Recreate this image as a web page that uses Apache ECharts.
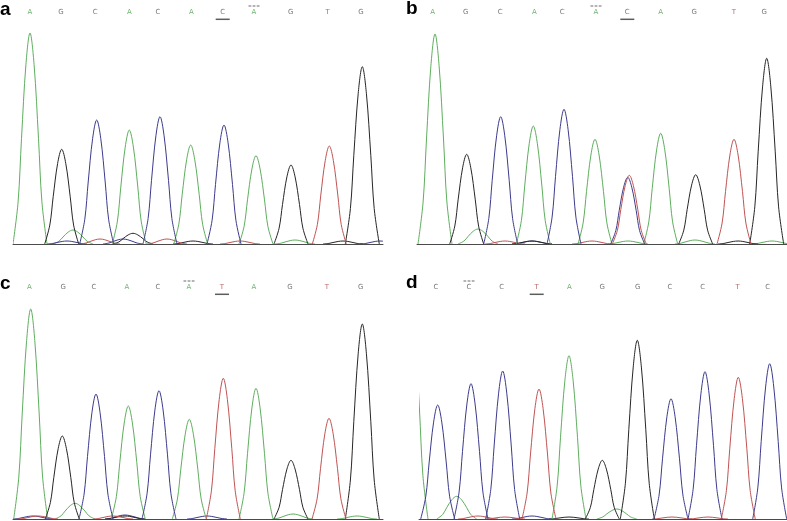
<!DOCTYPE html>
<html>
<head>
<meta charset="utf-8">
<script src="https://cdn.jsdelivr.net/npm/echarts@6.0.0/dist/echarts.min.js"></script>
<style>
html, body { margin: 0; padding: 0; background: #fff; }
#main { width: 787px; height: 521px; }
</style>
</head>
<body>
<div id="main"></div>
<script>
// base calls printed above each trace (x in scan units of its panel)
var basesA = ['A','G','C','A','C','A','C','A','G','T','G'];
var basePosA = [17, 48, 82.3, 116.3, 145, 178.3, 209.7, 241, 277.7, 314.7, 348];
var basesB = ['A','G','C','A','C','A','C','A','G','T','G'];
var basePosB = [15.7, 48.7, 83.3, 117.3, 145.3, 179, 210.3, 243.7, 277.3, 317, 347.3];
var basesC = ['A','G','C','A','C','A','T','A','G','T','G'];
var basePosC = [16.3, 50.3, 81, 114, 145, 176, 209, 241, 277, 314, 347.7];
var basesD = ['C','C','C','T','A','G','G','C','C','T','C'];
var basePosD = [17, 50, 82.7, 117.7, 150.3, 183.3, 218.7, 251, 283.7, 318.7, 348.7];

// index of the underlined call and of the call with the dashed mark
var underlined = [6, 6, 6, 3];
var dashed = [7, 5, 5, 1];

// peaks: [scan position, signal height]
var peaksA_A = [[17, 211], [116.3, 114], [177.7, 99], [243, 88.3]];
var peaksA_C = [[83.7, 124], [147, 127.3], [211, 119]];
var peaksA_G = [[48.7, 94.7], [278, 79], [349.3, 177.3]];
var peaksA_T = [[316.3, 98]];
var noiseA_A = [[60, 14], [282, 4]];
var noiseA_C = [[54, 3], [110, 5], [367, 3]];
var noiseA_G = [[120, 10.7], [180, 3], [330, 3]];
var noiseA_T = [[87, 5], [154, 5], [227, 3]];

var peaksB_A = [[18, 210], [116.3, 118], [178, 104.7], [243.7, 110.7]];
var peaksB_C = [[83.7, 127.3], [147, 134.7], [210.7, 66.7]];
var peaksB_G = [[49.7, 89.7], [278.7, 69.3], [349.7, 185.7]];
var peaksB_T = [[212.3, 68.7], [317, 104.7]];
var noiseB_A = [[61, 15], [211, 3], [278, 4], [355, 3]];
var noiseB_C = [[115, 3]];
var noiseB_G = [[115, 3], [321, 3]];
var noiseB_T = [[88, 3], [175, 3]];

var peaksC_A = [[17.7, 210], [115.3, 113], [176.3, 99.7], [243, 130.7]];
var peaksC_C = [[83, 125], [146, 128.3]];
var peaksC_G = [[49.3, 83], [278, 58.7], [349.3, 195]];
var peaksC_T = [[210.3, 140.7], [316, 100.7]];
var noiseC_A = [[62, 15.7], [280, 5], [344, 3]];
var noiseC_C = [[20, 3], [112, 4], [194, 3]];
var noiseC_G = [[112, 3]];
var noiseC_T = [[25, 3], [100, 3]];

var peaksD_A = [[-8, 218], [150, 163.3]];
var peaksD_C = [[18.7, 114], [52, 135.3], [83.7, 148], [252, 120.3], [286, 147.3], [350.7, 155.3]];
var peaksD_G = [[183.3, 58.7], [218.3, 178.7]];
var peaksD_T = [[120, 130], [319.3, 141.7]];
var noiseD_A = [[37.7, 22.7], [197.7, 10]];
var noiseD_C = [[113, 3]];
var noiseD_G = [[150, 2]];
var noiseD_T = [[59, 3], [86, 2], [253, 2], [289, 2]];

var DYE = { A: '#5fae5f', C: '#3c3b8c', G: '#262626', T: '#c05454' };
var LETTER = { A: '#4c9f4c', C: '#555', G: '#555', T: '#a84444' };

// shape of one trace peak, x in half widths, y in fraction of height
var PROFILE = [[-1, 0], [-0.7, 0.2], [-0.5, 0.5], [-0.24, 0.85], [0, 1],
               [0.24, 0.85], [0.5, 0.5], [0.7, 0.2], [1, 0]];

var myChart = echarts.init(document.getElementById('main'));

function peakSeries(grid, color, peaks, halfWidth) {
    return {
        type: 'custom',
        xAxisIndex: grid,
        yAxisIndex: grid,
        clip: true,
        silent: true,
        data: peaks,
        renderItem: function (params, api) {
            var c = api.value(0), h = api.value(1);
            var pts = PROFILE.map(function (p) {
                return api.coord([c + p[0] * halfWidth, p[1] * h]);
            });
            return {
                type: 'polyline',
                shape: { points: pts, smooth: 0.35 },
                style: { stroke: color, lineWidth: 1, fill: null }
            };
        }
    };
}

function baseSeries(grid, bases, pos) {
    return {
        type: 'scatter',
        xAxisIndex: grid,
        yAxisIndex: grid,
        silent: true,
        symbolSize: 1,
        itemStyle: { color: 'transparent' },
        data: bases.map(function (b, i) {
            return { name: b, value: [pos[i], 232], label: { color: LETTER[b] } };
        }),
        label: {
            show: true,
            position: 'inside',
            formatter: '{b}',
            fontSize: 7,
            fontFamily: 'DejaVu Sans'
        }
    };
}

function markSeries(grid, pos) {
    return [{
        type: 'scatter',
        xAxisIndex: grid,
        yAxisIndex: grid,
        silent: true,
        symbol: 'rect',
        symbolSize: [14, 1.5],
        itemStyle: { color: '#333' },
        data: [[pos[underlined[grid]], 224.7]]
    }, {
        // dotted mark over the variant position
        type: 'scatter',
        xAxisIndex: grid,
        yAxisIndex: grid,
        silent: true,
        symbol: 'path://M0,0h3v1h-3zM4.5,0h3v1h-3zM9,0h3v1h-3z',
        symbolSize: [11, 1],
        itemStyle: { color: '#444' },
        data: [[pos[dashed[grid]], 238]]
    }];
}

var panels = [
    { bases: basesA, pos: basePosA, peaks: [peaksA_A, peaksA_C, peaksA_G, peaksA_T], noise: [noiseA_A, noiseA_C, noiseA_G, noiseA_T] },
    { bases: basesB, pos: basePosB, peaks: [peaksB_A, peaksB_C, peaksB_G, peaksB_T], noise: [noiseB_A, noiseB_C, noiseB_G, noiseB_T] },
    { bases: basesC, pos: basePosC, peaks: [peaksC_A, peaksC_C, peaksC_G, peaksC_T], noise: [noiseC_A, noiseC_C, noiseC_G, noiseC_T] },
    { bases: basesD, pos: basePosD, peaks: [peaksD_A, peaksD_C, peaksD_G, peaksD_T], noise: [noiseD_A, noiseD_C, noiseD_G, noiseD_T] }
];
var dyes = ['A', 'C', 'G', 'T'];

var grids = [
    { left: 13, top: 4, width: 370, height: 240 },
    { left: 417, top: 4, width: 370, height: 240 },
    { left: 13, top: 279, width: 370, height: 240 },
    { left: 419, top: 279, width: 368, height: 240 }
];

var xAxes = [], yAxes = [], series = [];
panels.forEach(function (p, i) {
    xAxes.push({
        type: 'value', gridIndex: i, min: 0, max: grids[i].width,
        axisLine: { lineStyle: { color: '#4a4a4a', width: 1 } },
        axisTick: { show: false }, axisLabel: { show: false }, splitLine: { show: false }
    });
    yAxes.push({ type: 'value', gridIndex: i, min: 0, max: 240, show: false });
    dyes.forEach(function (d, k) {
        series.push(peakSeries(i, DYE[d], p.noise[k], 20));
    });
    dyes.forEach(function (d, k) {
        series.push(peakSeries(i, DYE[d], p.peaks[k], 17));
    });
    series.push(baseSeries(i, p.bases, p.pos));
    series = series.concat(markSeries(i, p.pos));
});

var panelLabel = function (txt, x, y) {
    return {
        type: 'text', x: x, y: y,
        style: { text: txt, font: 'bold 19px "Liberation Sans", Arial, sans-serif', fill: '#000', verticalAlign: 'middle' }
    };
};

var option = {
    animation: false,
    backgroundColor: '#fff',
    grid: grids,
    xAxis: xAxes,
    yAxis: yAxes,
    series: series,
    graphic: [
        panelLabel('a', 0, 10),
        panelLabel('b', 406, 9),
        panelLabel('c', 0, 284),
        panelLabel('d', 406, 283)
    ]
};

myChart.setOption(option);
</script>
</body>
</html>
